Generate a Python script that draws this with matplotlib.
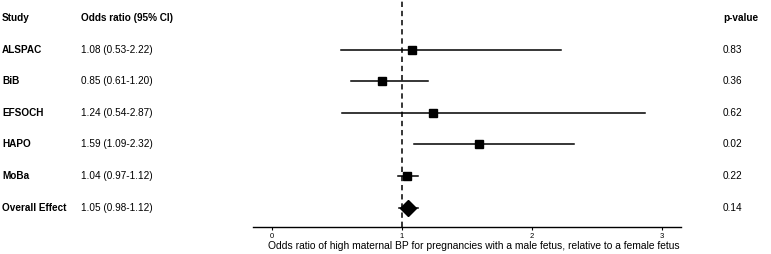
import matplotlib.pyplot as plt
import matplotlib.transforms as mtransforms

plt.rcParams['font.family'] = ['Liberation Sans', 'DejaVu Sans']

# Datos del forest plot
studies = ['ALSPAC', 'BiB', 'EFSOCH', 'HAPO', 'MoBa', 'Overall Effect']
odds = [1.08, 0.85, 1.24, 1.59, 1.04, 1.05]
ci_low = [0.53, 0.61, 0.54, 1.09, 0.97, 0.98]
ci_high = [2.22, 1.20, 2.87, 2.32, 1.12, 1.12]
p_values = ['0.83', '0.36', '0.62', '0.02', '0.22', '0.14']
xticks = [0, 1, 2, 3]
xlabel = 'Odds ratio of high maternal BP for pregnancies with a male fetus, relative to a female fetus'

W, H = 771, 254
fig = plt.figure(figsize=(W / 100, H / 100), dpi=100)
ax = fig.add_axes([253 / W, 27 / H, (681 - 253) / W, 227 / H])

rows = list(range(1, len(studies) + 1))
for i, y in enumerate(rows):
    ax.plot([ci_low[i], ci_high[i]], [y, y], color='black', lw=1.1, zorder=2)
    if i == len(studies) - 1:
        ax.plot(odds[i], y, marker='D', color='black', markersize=8, zorder=3)
    else:
        ax.plot(odds[i], y, marker='s', color='black', markersize=5.5, zorder=3)

ax.axvline(1, color='black', lw=1.1, ls=(0, (3.5, 2.5)), zorder=1)

ax.set_xlim(-0.146, 3.146)
ax.set_ylim(6.61, -0.57)
ax.set_xticks(xticks)
ax.set_xticklabels([str(t) for t in xticks], fontsize=5.5)
ax.tick_params(axis='x', length=2.5, width=0.8, pad=1.5)
ax.set_yticks([])
for s in ['top', 'left', 'right']:
    ax.spines[s].set_visible(False)
ax.spines['bottom'].set_linewidth(1.0)
ax.set_xlabel(xlabel, fontsize=7.35)
ax.xaxis.set_label_coords(0.515, -0.063)

# Columnas de texto (x en coordenadas de figura, y en datos)
fs = 7.2
trans = mtransforms.blended_transform_factory(fig.transFigure, ax.transData)
hdr = dict(fontsize=fs, fontweight='bold', va='center', transform=trans, clip_on=False)
ax.text(2 / W, 0, 'Study', **hdr)
ax.text(81 / W, 0, 'Odds ratio (95% CI)', **hdr)
ax.text(723 / W, 0, 'p-value', **hdr)

for i, y in enumerate(rows):
    ax.text(2 / W, y, studies[i], fontsize=fs, fontweight='bold', va='center',
            transform=trans, clip_on=False)
    ax.text(81 / W, y, f'{odds[i]:.2f} ({ci_low[i]:.2f}-{ci_high[i]:.2f})',
            fontsize=fs, va='center', transform=trans, clip_on=False)
    ax.text(723 / W, y, p_values[i], fontsize=fs, va='center',
            transform=trans, clip_on=False)

fig.savefig('out.png', dpi=100)
